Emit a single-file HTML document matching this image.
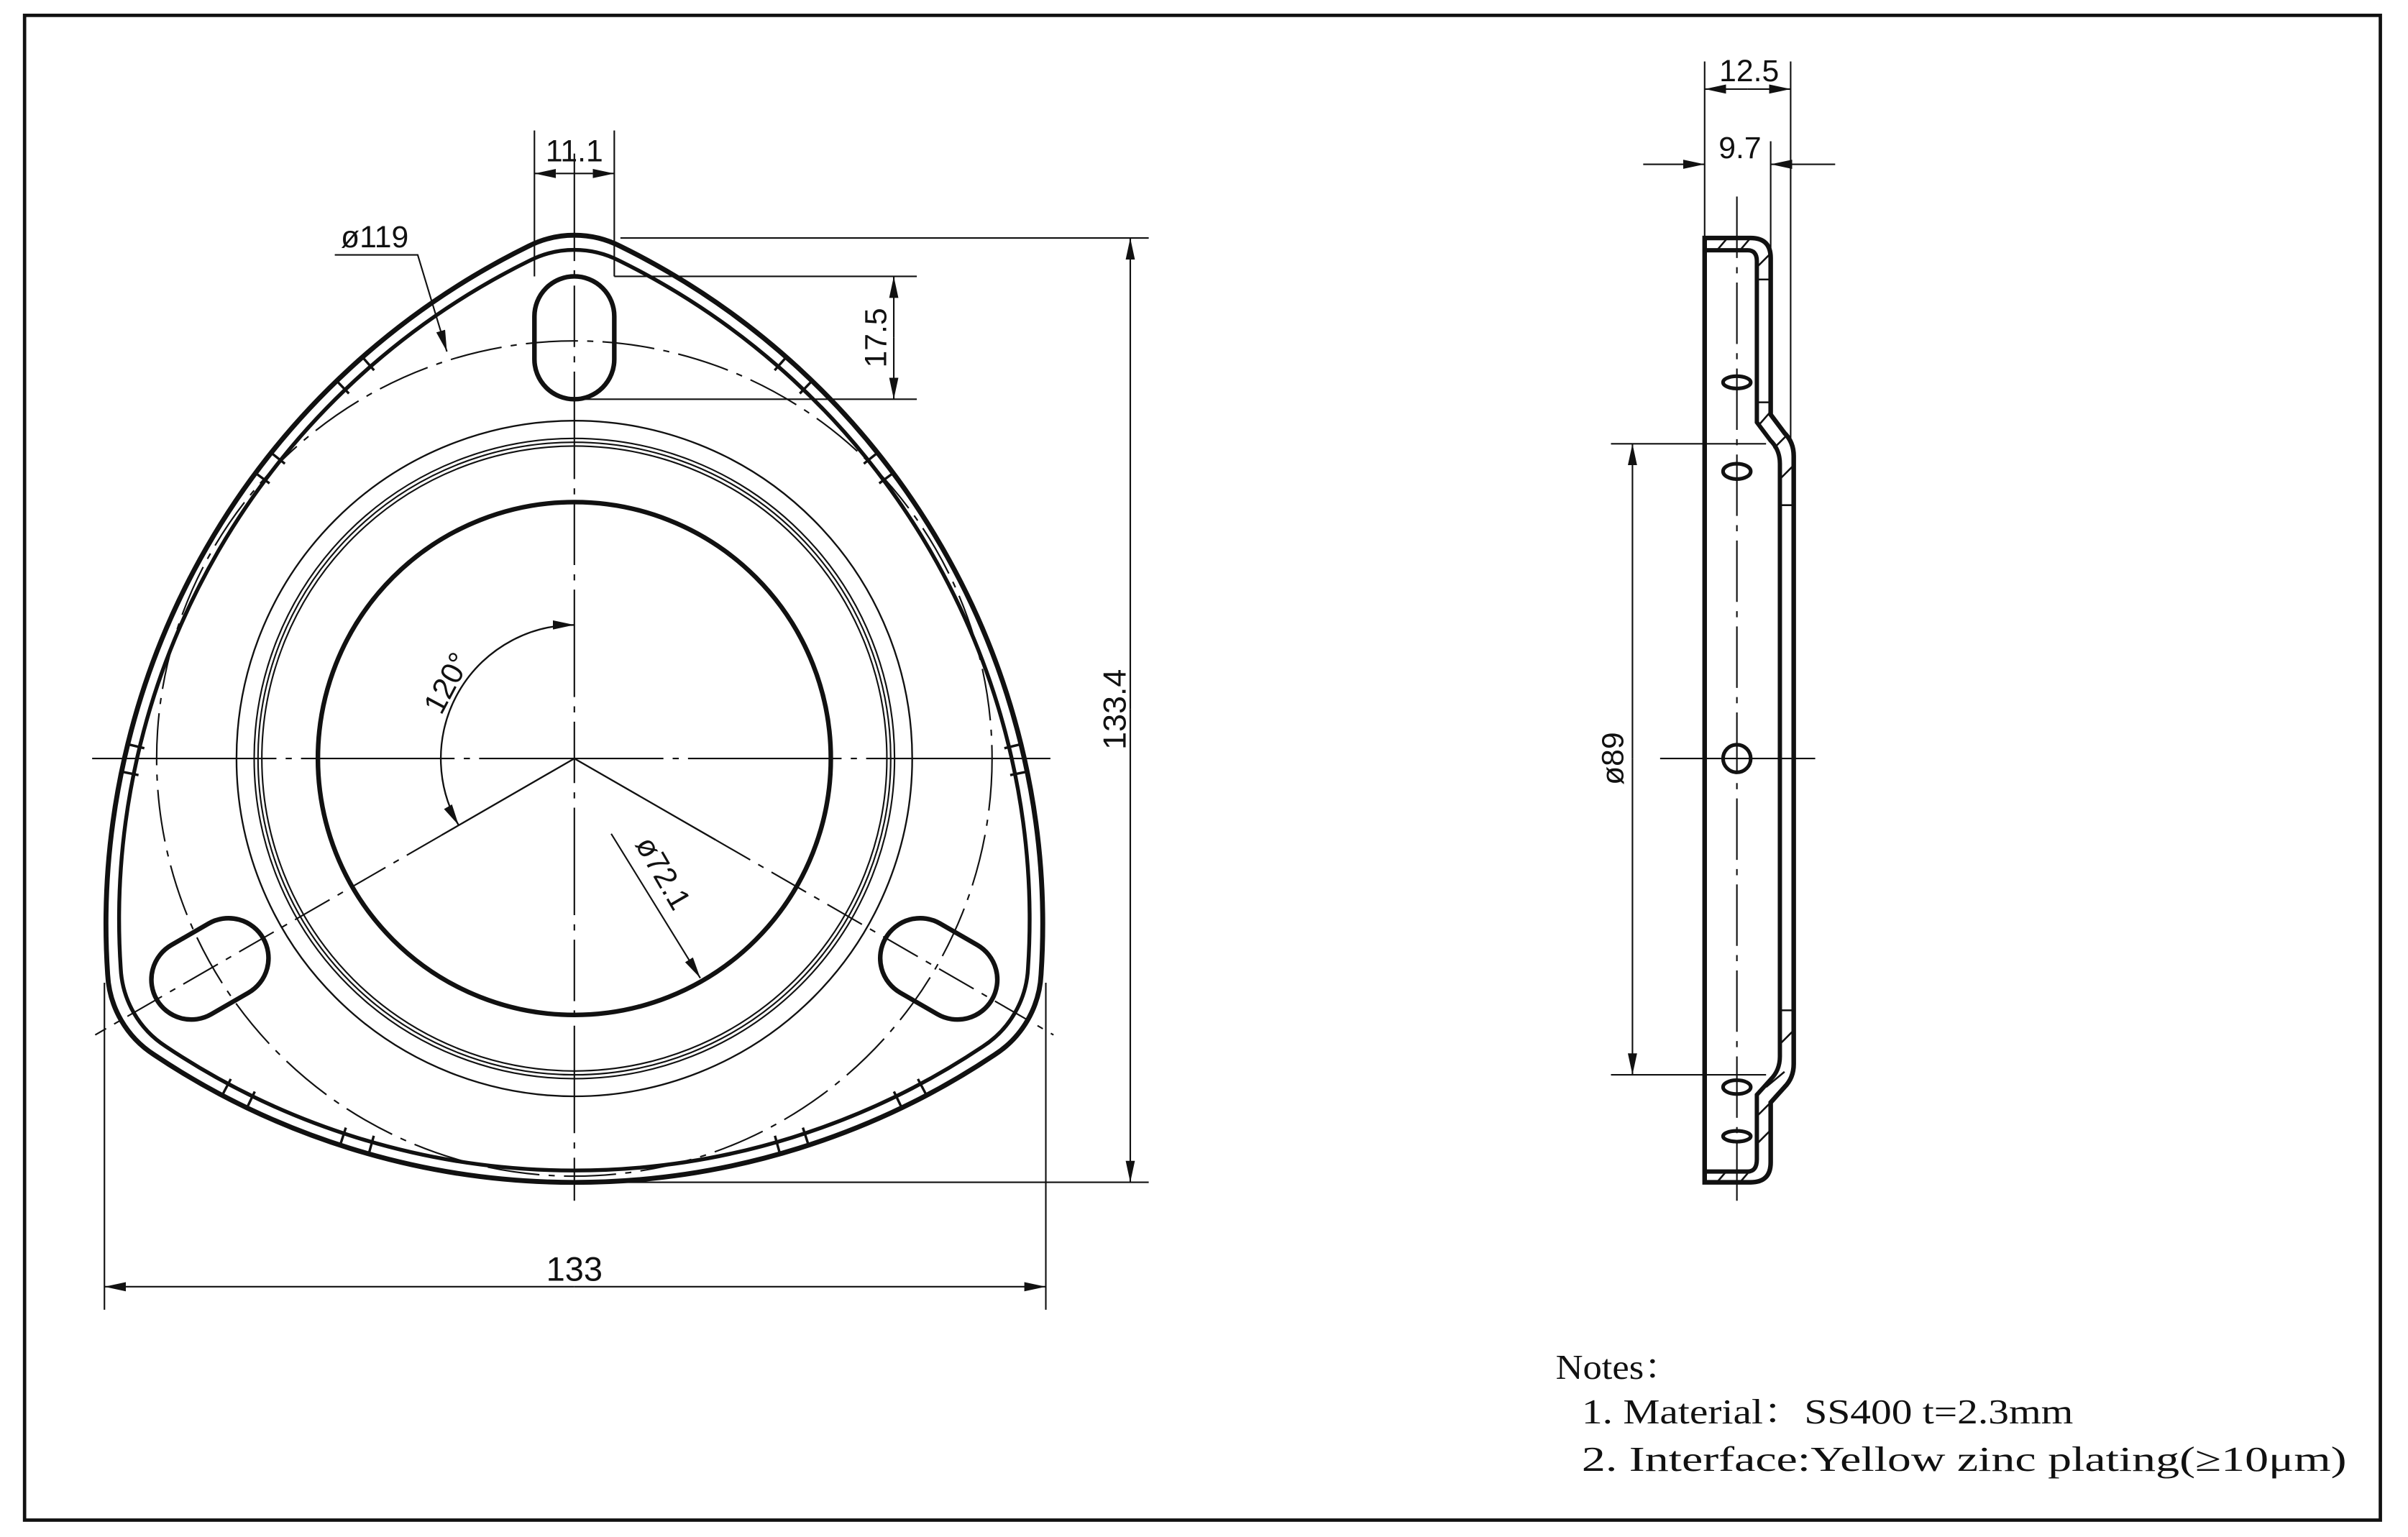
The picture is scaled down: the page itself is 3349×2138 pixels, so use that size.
<!DOCTYPE html>
<html><head><meta charset="utf-8"><style>
html,body{margin:0;padding:0;background:#fff;}
svg{display:block;}
text{font-family:"Liberation Sans",sans-serif;fill:#111;}
.n{font-family:"Liberation Serif","Noto Serif CJK SC",serif;}
</style></head><body>
<svg width="3349" height="2138" viewBox="0 0 1568 1001" xmlns="http://www.w3.org/2000/svg">
<defs>
<marker id="a" viewBox="0 0 14 6" refX="14" refY="3" markerWidth="14" markerHeight="6" markerUnits="userSpaceOnUse" orient="auto-start-reverse">
<path d="M0,0 L14,3 L0,6 Z" fill="#111"/>
</marker>
</defs>
<rect x="0" y="0" width="1568" height="1001" fill="#fff"/>
<rect x="16" y="10" width="1534" height="980" fill="none" stroke="#111" stroke-width="2.2"/>

<g fill="none" stroke="#111">
<!-- outline -->
<path d="M343.8,160.5 A66,66 0 0 1 404.2,160.5 A492,492 0 0 1 677.9,634.6 A66,66 0 0 1 647.7,686.9 A492,492 0 0 1 100.3,686.9 A66,66 0 0 1 70.1,634.6 A492,492 0 0 1 343.8,160.5 Z" stroke-width="3.2"/>
<path d="M343.8,160.5 A66,66 0 0 1 404.2,160.5 A492,492 0 0 1 677.9,634.6 A66,66 0 0 1 647.7,686.9 A492,492 0 0 1 100.3,686.9 A66,66 0 0 1 70.1,634.6 A492,492 0 0 1 343.8,160.5 Z" transform="translate(374,494) scale(0.972) translate(-374,-494)" stroke-width="2.6"/>
<!-- tick pairs -->
<g stroke-width="1.6">
<line x1="243.6" y1="241.2" x2="235.7" y2="232.2"/><line x1="227.2" y1="256.3" x2="218.9" y2="247.7"/>
<line x1="185.5" y1="302" x2="176.1" y2="294.5"/><line x1="175.5" y1="314.8" x2="165.9" y2="307.7"/>
<line x1="504.4" y1="241.2" x2="512.3" y2="232.2"/><line x1="520.8" y1="256.3" x2="529.1" y2="247.7"/>
<line x1="562.5" y1="302" x2="571.9" y2="294.5"/><line x1="572.5" y1="314.8" x2="582.1" y2="307.7"/>
<line x1="94" y1="487.3" x2="82.4" y2="484.5"/><line x1="90.2" y1="504.8" x2="78.4" y2="502.4"/>
<line x1="654" y1="487.3" x2="665.6" y2="484.5"/><line x1="657.8" y1="504.8" x2="669.6" y2="502.4"/>
<line x1="150.3" y1="702.7" x2="144.7" y2="713.3"/><line x1="165.9" y1="710.9" x2="160.7" y2="721.7"/>
<line x1="225.2" y1="734.4" x2="221.5" y2="745.8"/><line x1="243.4" y1="739.7" x2="240.2" y2="751.2"/>
<line x1="597.7" y1="702.7" x2="603.3" y2="713.3"/><line x1="582.1" y1="710.9" x2="587.3" y2="721.7"/>
<line x1="522.8" y1="734.4" x2="526.5" y2="745.8"/><line x1="504.6" y1="739.7" x2="507.8" y2="751.2"/>
</g>
<!-- circles -->
<circle cx="374" cy="494" r="272" stroke-width="1" stroke-dasharray="34 6 4 6"/>
<circle cx="374" cy="494" r="220" stroke-width="1.1"/>
<circle cx="374" cy="494" r="208.5" stroke-width="1"/>
<circle cx="374" cy="494" r="206" stroke-width="1"/>
<circle cx="374" cy="494" r="203.5" stroke-width="1"/>
<circle cx="374" cy="494" r="167" stroke-width="3"/>
<!-- slots -->
<rect x="348" y="180" width="52" height="80" rx="26" stroke-width="3"/>
<rect x="348" y="180" width="52" height="80" rx="26" stroke-width="3" transform="rotate(-120 374 494)"/>
<rect x="348" y="180" width="52" height="80" rx="26" stroke-width="3" transform="rotate(120 374 494)"/>
<!-- center lines -->
<line x1="60" y1="494" x2="690" y2="494" stroke-width="1" stroke-dasharray="120 6 4 6 100 6 4 6"/>
<line x1="374" y1="100" x2="374" y2="782" stroke-width="1" stroke-dasharray="70 6 4 6 40 6 4 6"/>
<line x1="374" y1="494" x2="287.4" y2="544" stroke-width="1.1"/>
<line x1="287.4" y1="544" x2="62" y2="674" stroke-width="1" stroke-dasharray="26 6 4 6"/>
<line x1="374" y1="494" x2="466" y2="547" stroke-width="1.1"/>
<line x1="466" y1="547" x2="686" y2="674" stroke-width="1" stroke-dasharray="26 6 4 6"/>
<!-- 120 deg arc -->
<path d="M374,407 A87,87 0 0 0 298.7,537.5" stroke-width="1.1" marker-start="url(#a)" marker-end="url(#a)"/>
<!-- 11.1 -->
<line x1="348" y1="85" x2="348" y2="180" stroke-width="1"/>
<line x1="400" y1="85" x2="400" y2="180" stroke-width="1"/>
<line x1="362" y1="113" x2="348" y2="113" stroke-width="1" marker-end="url(#a)"/>
<line x1="386" y1="113" x2="400" y2="113" stroke-width="1" marker-end="url(#a)"/>
<line x1="362" y1="113" x2="386" y2="113" stroke-width="1"/>
<!-- 119 -->
<polyline points="218,166 272,166 291,229" stroke-width="1" marker-end="url(#a)"/>
<!-- 17.5 -->
<line x1="400" y1="180" x2="597" y2="180" stroke-width="1"/>
<line x1="380" y1="260" x2="597" y2="260" stroke-width="1"/>
<line x1="582" y1="220" x2="582" y2="180" stroke-width="1" marker-end="url(#a)"/>
<line x1="582" y1="220" x2="582" y2="260" stroke-width="1" marker-end="url(#a)"/>
<!-- 133.4 -->
<line x1="404" y1="155" x2="748" y2="155" stroke-width="1"/>
<line x1="374" y1="770" x2="748" y2="770" stroke-width="1"/>
<line x1="736" y1="462" x2="736" y2="155" stroke-width="1" marker-end="url(#a)"/>
<line x1="736" y1="462" x2="736" y2="770" stroke-width="1" marker-end="url(#a)"/>
<!-- 133 -->
<line x1="68" y1="640" x2="68" y2="853" stroke-width="1"/>
<line x1="681" y1="640" x2="681" y2="853" stroke-width="1"/>
<line x1="374" y1="838" x2="68" y2="838" stroke-width="1" marker-end="url(#a)"/>
<line x1="374" y1="838" x2="681" y2="838" stroke-width="1" marker-end="url(#a)"/>
<!-- 72.1 -->
<line x1="398" y1="543" x2="456" y2="637" stroke-width="1" marker-end="url(#a)"/>

<!-- SIDE VIEW -->
<line x1="1131" y1="128" x2="1131" y2="782" stroke-width="1" stroke-dasharray="40 6 4 6"/>
<line x1="1081" y1="494" x2="1182" y2="494" stroke-width="1"/>
<path d="M1110,770 L1110,155 L1140,155 Q1153,155 1153,168 L1153,270 L1162,282 Q1168,288 1168,297 L1168,693 Q1168,702 1162,708 L1153,718 L1153,757 Q1153,770 1140,770 Z" stroke-width="3"/>
<path d="M1110,163 L1138,163 Q1144,163 1144,170 L1144,275 L1153,287 Q1159,293 1159,302 L1159,688 Q1159,697 1153,703 L1144,713 L1144,755 Q1144,763 1138,763 L1110,763" stroke-width="2.8"/>
<g stroke-width="1.2">
<line x1="1144" y1="182" x2="1153" y2="182"/><line x1="1144" y1="262" x2="1153" y2="262"/>
<line x1="1159" y1="329" x2="1168" y2="329"/><line x1="1159" y1="658" x2="1168" y2="658"/>
<line x1="1118" y1="163" x2="1124" y2="156"/><line x1="1133" y1="163" x2="1139" y2="156"/><line x1="1144" y1="174" x2="1152" y2="166"/>
<line x1="1146" y1="276" x2="1153" y2="268"/><line x1="1155" y1="292" x2="1163" y2="284"/><line x1="1159" y1="312" x2="1168" y2="303"/>
<line x1="1159" y1="680" x2="1168" y2="671"/><line x1="1150" y1="708" x2="1162" y2="698"/><line x1="1144" y1="727" x2="1153" y2="718"/><line x1="1144" y1="745" x2="1153" y2="736"/>
<line x1="1118" y1="770" x2="1124" y2="763"/><line x1="1133" y1="770" x2="1139" y2="763"/>
</g>
<g stroke-width="2.4">
<ellipse cx="1131" cy="249" rx="9" ry="4"/>
<ellipse cx="1131" cy="307" rx="9" ry="5"/>
<circle cx="1131" cy="494" r="9"/>
<ellipse cx="1131" cy="708" rx="9" ry="4.5"/>
<ellipse cx="1131" cy="740" rx="9" ry="3.5"/>
</g>
<!-- 12.5 / 9.7 -->
<line x1="1110" y1="40" x2="1110" y2="155" stroke-width="1"/>
<line x1="1166" y1="40" x2="1166" y2="290" stroke-width="1"/>
<line x1="1153" y1="92" x2="1153" y2="175" stroke-width="1"/>
<line x1="1138" y1="58" x2="1110" y2="58" stroke-width="1" marker-end="url(#a)"/>
<line x1="1138" y1="58" x2="1166" y2="58" stroke-width="1" marker-end="url(#a)"/>
<line x1="1070" y1="107" x2="1110" y2="107" stroke-width="1" marker-end="url(#a)"/>
<line x1="1195" y1="107" x2="1153" y2="107" stroke-width="1" marker-end="url(#a)"/>
<!-- 89 -->
<line x1="1049" y1="289" x2="1150" y2="289" stroke-width="1"/>
<line x1="1049" y1="700" x2="1150" y2="700" stroke-width="1"/>
<line x1="1063" y1="494" x2="1063" y2="289" stroke-width="1" marker-end="url(#a)"/>
<line x1="1063" y1="494" x2="1063" y2="700" stroke-width="1" marker-end="url(#a)"/>
</g>

<!-- texts -->
<text x="374" y="105" font-size="20" text-anchor="middle">11.1</text>
<text x="244" y="161" font-size="20" text-anchor="middle">ø119</text>
<text transform="translate(577,220) rotate(-90)" font-size="20" text-anchor="middle">17.5</text>
<text transform="translate(733,462) rotate(-90)" font-size="21" text-anchor="middle">133.4</text>
<text x="374" y="834" font-size="22" text-anchor="middle">133</text>
<text transform="translate(297,448) rotate(-62)" font-size="20" text-anchor="middle">120°</text>
<text transform="translate(426,572) rotate(60)" font-size="20" text-anchor="middle">ø72.1</text>
<text x="1139" y="53" font-size="20" text-anchor="middle">12.5</text>
<text x="1133" y="103" font-size="20" text-anchor="middle">9.7</text>
<text transform="translate(1057,494) rotate(-90)" font-size="20" text-anchor="middle">ø89</text>

<text class="n" x="1013" y="898" font-size="23" textLength="82" lengthAdjust="spacingAndGlyphs">Notes：</text>
<text class="n" x="1030" y="927" font-size="23" textLength="320" lengthAdjust="spacingAndGlyphs">1. Material：SS400 t=2.3mm</text>
<text class="n" x="1030" y="958" font-size="23" textLength="498" lengthAdjust="spacingAndGlyphs">2. Interface:Yellow zinc plating(≥10μm)</text>
</svg>
</body></html>
